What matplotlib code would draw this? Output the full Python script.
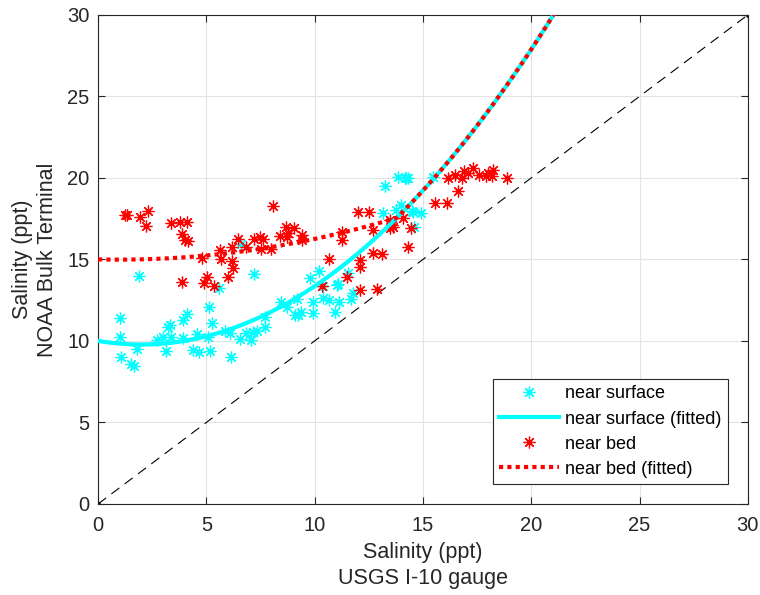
import numpy as np
import matplotlib
matplotlib.use("Agg")
import matplotlib.pyplot as plt

plt.rcParams['font.family'] = ['Liberation Sans', 'DejaVu Sans']

# near surface samples (USGS I-10 vs NOAA Bulk Terminal), ppt
surf_x = [1.02, 1.00, 1.08, 1.54, 1.65, 1.81, 1.88, 2.74, 3.00, 3.23, 3.30, 3.15, 3.38,
          3.92, 4.12, 3.92, 4.38, 4.58, 4.66, 5.08, 5.12, 5.28, 5.15, 5.57, 5.85, 6.10,
          6.12, 6.54, 6.61, 6.85, 7.08, 7.15, 7.20, 7.35, 7.69, 7.69, 8.43, 8.73, 9.08,
          9.17, 9.24, 9.38, 9.91, 9.91, 9.78, 10.22, 10.40, 10.40, 10.67, 10.94, 11.01,
          11.10, 11.14, 11.55, 11.70, 11.78, 13.17, 13.24, 13.75, 13.86, 14.00, 14.17,
          14.24, 14.30, 14.50, 14.55, 14.60, 14.93, 15.47]
surf_y = [11.39, 10.27, 9.04, 8.59, 8.47, 9.49, 13.99, 10.06, 10.27, 10.88, 11.00, 9.41, 10.27,
          11.29, 11.66, 10.16, 9.45, 10.43, 9.34, 10.27, 12.07, 11.13, 9.41, 13.23, 10.63, 10.50,
          9.04, 10.10, 15.95, 10.47, 10.06, 10.55, 14.11, 10.60, 11.49, 10.88, 12.41, 12.10, 11.60,
          12.56, 11.60, 11.80, 12.41, 11.70, 13.85, 14.26, 13.34, 12.62, 12.50, 11.80, 13.44,
          13.50, 12.41, 14.15, 12.56, 12.92, 17.83, 19.51, 18.04, 20.04, 18.34, 19.98,
          20.00, 19.98, 18.00, 17.93, 17.00, 17.83, 20.04]

# near bed samples
bed_x = [1.23, 1.35, 1.92, 2.31, 2.23, 3.38, 3.77, 4.12, 3.88, 4.03, 4.15, 3.88, 4.81,
         4.89, 5.05, 5.35, 5.61, 5.68, 6.00, 6.18, 6.20, 6.23, 6.46, 6.81, 7.20, 7.46,
         7.60, 7.54, 7.97, 8.08, 8.38, 8.69, 8.76, 8.73, 9.07, 9.40, 9.40, 10.35, 10.67,
         11.25, 11.25, 11.48, 12.01, 12.10, 12.10, 12.10, 12.50, 12.71, 12.71, 12.89, 13.09,
         13.47, 13.55, 13.47, 13.60, 14.09, 14.32, 14.43, 15.55, 16.09, 16.17, 16.50, 16.63,
         16.80, 16.90, 17.10, 17.30, 17.60, 17.90, 18.00, 18.20, 18.24, 18.89]
bed_y = [17.73, 17.70, 17.63, 18.00, 17.06, 17.22, 17.28, 17.32, 16.56, 16.20, 16.10, 13.64, 15.07,
         13.58, 13.95, 13.40, 15.58, 15.00, 13.95, 15.75, 14.93, 14.46, 16.26, 15.75, 16.24, 16.36,
         16.24, 15.63, 15.63, 18.28, 16.44, 17.01, 16.65, 16.40, 16.90, 16.50, 16.20, 13.37, 15.03,
         16.70, 16.20, 13.95, 17.90, 14.97, 14.52, 13.13, 17.90, 16.81, 15.42, 13.17, 15.32,
         17.42, 17.12, 16.91, 17.00, 17.53, 15.75, 16.90, 18.45, 18.49, 19.98, 20.20, 19.17,
         20.00, 20.40, 20.30, 20.60, 20.20, 20.10, 20.30, 20.10, 20.50, 19.98]

# quadratic fit coefficients (c0, c1, c2)
surf_fit = [10.0, -0.222, 0.0558]
bed_fit = [15.0, -0.0294, 0.01552]

xfit = np.linspace(0, 30, 601)
surf_curve = surf_fit[0] + surf_fit[1] * xfit + surf_fit[2] * xfit**2
bed_curve = bed_fit[0] + bed_fit[1] * xfit + bed_fit[2] * xfit**2
# bed salinity is never below the surface value
bed_curve = np.maximum(bed_curve, surf_curve)

fig = plt.figure(figsize=(7.6, 5.95), dpi=100)
ax = fig.add_axes([0.129, 0.153, 0.855, 0.822])

ax.plot([0, 30], [0, 30], color='black', lw=0.8, dashes=(9, 6), marker='.', ms=5, zorder=1)
ax.plot(surf_x, surf_y, linestyle='none', marker=(8, 2, 0), ms=8.5, mew=0.9,
        color='#00ffff', label='near surface', zorder=3)
ax.plot(xfit, surf_curve, color='#00ffff', lw=3, label='near surface (fitted)', zorder=4)
ax.plot(bed_x, bed_y, linestyle='none', marker=(8, 2, 0), ms=8.5, mew=0.9,
        color='#ff0000', label='near bed', zorder=3)
ax.plot(xfit, bed_curve, color='#ff0000', lw=3, dashes=(1, 1), label='near bed (fitted)', zorder=5)

ax.set_xlim(0, 30)
ax.set_ylim(0, 30)
ax.set_xticks(np.arange(0, 31, 5))
ax.set_yticks(np.arange(0, 31, 5))
ax.grid(True, color='#e3e3e3', lw=0.8)
ax.set_axisbelow(True)
ax.tick_params(direction='in', top=True, right=True, length=5, width=0.8,
               labelsize=14.5, colors='#262626')
ax.tick_params(axis='x', pad=9)
ax.tick_params(axis='y', pad=6)
for s in ax.spines.values():
    s.set_color('#262626')
    s.set_linewidth(0.8)

ax.set_xlabel('Salinity (ppt)\nUSGS I-10 gauge', fontsize=15.5, color='#262626',
              labelpad=5, linespacing=1.3)
ax.set_ylabel('Salinity (ppt)\nNOAA Bulk Terminal', fontsize=15.5, color='#262626',
              labelpad=7, linespacing=1.2)

leg = ax.legend(loc='lower right', fontsize=13, frameon=True, fancybox=False,
                edgecolor='#262626', framealpha=1, borderaxespad=1.1,
                handlelength=3.3, handletextpad=0.35, labelspacing=0.45, borderpad=0.35)
leg.get_frame().set_linewidth(0.8)

fig.savefig('out.png', dpi=100)
